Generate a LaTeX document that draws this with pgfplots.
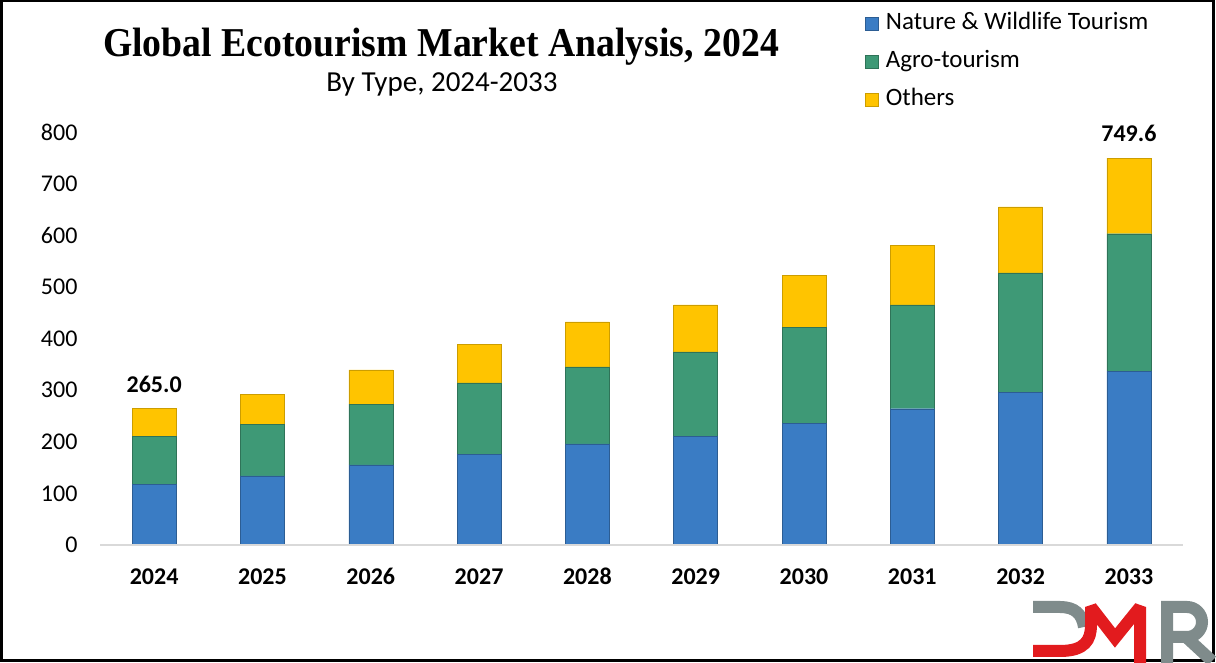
\documentclass[border=0pt]{standalone}
\usepackage{pgfplots}
\pgfplotsset{compat=1.18}
\usepackage{fontspec}
\setmainfont{Carlito}
\newfontfamily\titlefont[FakeStretch=0.92]{Liberation Serif}
\definecolor{cblue}{RGB}{58,124,196}
\definecolor{cgreen}{RGB}{62,153,118}
\definecolor{cyellow}{RGB}{255,196,0}
\definecolor{lgray}{RGB}{127,139,139}
\definecolor{lred}{RGB}{226,27,30}
\begin{document}
\begin{tikzpicture}[x=1pt,y=1pt]
\path[use as bounding box] (0,0) rectangle (1216,663);
\begin{axis}[
  at={(100pt,118pt)}, anchor=south west,
  scale only axis, width=1083pt, height=413pt,
  xmin=-0.5, xmax=9.5, ymin=0, ymax=800,
  clip=false,
  ybar stacked, bar width=44pt,
  xtick={0,...,9},
  xticklabels={2024,2025,2026,2027,2028,2029,2030,2031,2032,2033},
  ytick={0,100,...,800},
  axis line style={draw=none},
  major tick length=0pt, tick style={draw=none},
  /pgf/number format/assume math mode=true,
  yticklabel style={font=\fontsize{24}{28}\selectfont, xshift=-19pt},
  xticklabel style={font=\bfseries\fontsize{24}{28}\selectfont, text height=16pt, text depth=0pt, yshift=-20pt},
  legend style={at={(0.7036,1.30)}, anchor=north west, draw=none, fill=none,
    font=\fontsize{25}{29}\selectfont, row sep=12pt, column sep=5pt,
    nodes={text height=17pt, text depth=5pt, inner sep=2pt}},
  legend cell align=left,
  legend image code/.code={\draw[#1, line width=0.6pt] (0pt,-6.5pt) rectangle (13pt,6.5pt);},
]
\draw[black!15, line width=1.5pt] (axis cs:-0.5,0) -- (axis cs:9.5,0);
\addplot[fill=cblue, draw=cblue!75!black] coordinates {(0,118)(1,134)(2,155)(3,176)(4,196)(5,211)(6,236)(7,264)(8,296)(9,337)};
\addplot[fill=cgreen, draw=cgreen!75!black] coordinates {(0,93)(1,100)(2,118)(3,138)(4,149)(5,163)(6,186)(7,201)(8,231)(9,266)};
\addplot[fill=cyellow, draw=cyellow!80!black] coordinates {(0,54)(1,58)(2,66)(3,75)(4,87)(5,91)(6,101)(7,116)(8,128)(9,146.6)};
\legend{Nature \& Wildlife Tourism, Agro-tourism, Others}
\node[anchor=base, yshift=16pt, font=\bfseries\fontsize{24}{28}\selectfont] at (axis cs:0,265) {265.0};
\node[anchor=base, yshift=17pt, font=\bfseries\fontsize{24}{28}\selectfont] at (axis cs:9,749.6) {749.6};
\end{axis}
\node[anchor=base, font=\titlefont\bfseries\fontsize{41}{47}\selectfont] at (441,606) {Global Ecotourism Market Analysis, 2024};
\node[anchor=base, font=\fontsize{29}{34}\selectfont] at (442,571) {By Type, 2024-2033};
\draw[line width=3pt] (1,2.5) rectangle (1213,662);
% logo
\draw[lgray, line width=12pt] (1033,56) -- (1060,56) .. controls (1075,56) and (1082,49) .. (1084,36);
\draw[lred, line width=12pt, miter limit=3] (1033,12) -- (1060,12) .. controls (1085,12) and (1091,23) .. (1091,38) -- (1091,56) -- (1115,25) -- (1140,56) -- (1140,0);
\draw[lgray, line width=12pt] (1167,0) -- (1167,56) -- (1187,56) arc[start angle=90, end angle=-90, radius=15] -- (1167,26);
\draw[lgray, line width=12pt] (1186,26) -- (1212,2);
\end{tikzpicture}
\end{document}
